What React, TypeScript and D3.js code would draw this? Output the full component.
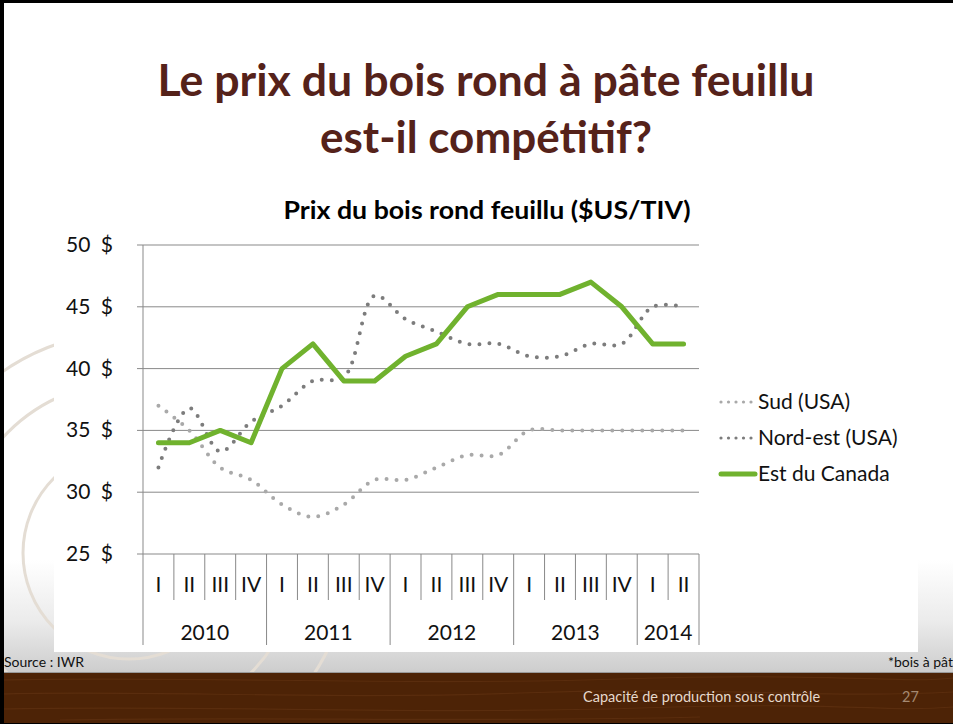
import React, { useRef, useEffect } from "react";
import * as d3 from "d3";

// slide / chart text
const titleLines = ["Le prix du bois rond à pâte feuillu", "est-il compétitif?"];
const titleWidths = [657, 332];
const chartTitle = "Prix du bois rond feuillu ($US/TIV)";

// x categories (two levels)
const quarterLabels = ["I", "II", "III", "IV", "I", "II", "III", "IV", "I", "II", "III", "IV", "I", "II", "III", "IV", "I", "II"];
const yearLabels = ["2010", "2011", "2012", "2013", "2014"];
const yearSpans = [4, 4, 4, 4, 2];

// y ticks
const yTicks = [25, 30, 35, 40, 45, 50];

// series values ($US/TIV)
const sud = [37, 35, 32, 31, 29, 28, 29, 31, 31, 32, 33, 33, 35, 35, 35, 35, 35, 35];
const nordEst = [32, 36.8, 33.3, 35.7, 37, 39, 39.3, 45.9, 44, 43, 42, 42, 41, 41, 42, 42, 45, 45];
const estCanada = [34, 34, 35, 34, 40, 42, 39, 39, 41, 42, 45, 46, 46, 46, 47, 45, 42, 42];

const seriesNames = ["Sud (USA)", "Nord-est (USA)", "Est du Canada"];

const W = 953;
const H = 724;
const FONT = "Lato, 'Open Sans', sans-serif";

const App = () => {
	const svgRef = useRef(null);

	useEffect(() => {
		const svg = d3.select(svgRef.current);
		svg.selectAll("*").remove();

		const defs = svg.append("defs");
		const grad = defs.append("linearGradient")
			.attr("id", "bandGrad")
			.attr("x1", 0).attr("y1", 0).attr("x2", 0).attr("y2", 1);
		grad.append("stop").attr("offset", "0%").attr("stop-color", "#ffffff");
		grad.append("stop").attr("offset", "55%").attr("stop-color", "#ebebeb");
		grad.append("stop").attr("offset", "100%").attr("stop-color", "#cdcdcd");

		// slide background
		svg.append("rect").attr("width", W).attr("height", H).attr("fill", "#ffffff");
		svg.append("rect")
			.attr("x", 0).attr("y", 560).attr("width", W).attr("height", 112)
			.attr("fill", "url(#bandGrad)");

		// faint decorative rings
		const rings = svg.append("g").attr("fill", "none").attr("stroke", "#e4ddd4").attr("stroke-width", 3);
		[106, 171, 221].forEach(r => {
			rings.append("circle").attr("cx", 129).attr("cy", 553).attr("r", r);
		});

		// wood footer
		svg.append("rect").attr("x", 0).attr("y", 672).attr("width", W).attr("height", 52).attr("fill", "#4d2306");
		const grain = svg.append("g").attr("fill", "none").attr("stroke", "#5e3010").attr("stroke-width", 1.2).attr("opacity", 0.8);
		["M0,680 C200,676 400,686 620,679 S900,684 953,678",
			"M0,694 C150,690 330,700 520,693 S820,699 953,692",
			"M0,709 C220,705 420,715 640,708 S880,713 953,707",
			"M60,720 C260,716 480,723 700,717"].forEach(p => grain.append("path").attr("d", p));
		svg.append("line").attr("x1", 0).attr("x2", W).attr("y1", 672.5).attr("y2", 672.5)
			.attr("stroke", "#9a9a9a").attr("stroke-width", 1);

		svg.append("text")
			.attr("x", 583).attr("y", 702)
			.attr("font-family", FONT).attr("font-size", 14.5)
			.attr("fill", "#e6d9cc")
			.text("Capacité de production sous contrôle");
		svg.append("text")
			.attr("x", 902).attr("y", 702)
			.attr("font-family", FONT).attr("font-size", 14.5)
			.attr("fill", "#a58a72")
			.text("27");

		svg.append("text")
			.attr("x", 4).attr("y", 667)
			.attr("font-family", FONT).attr("font-size", 14)
			.attr("fill", "#111")
			.text("Source : IWR");
		svg.append("text")
			.attr("x", 888).attr("y", 667)
			.attr("font-family", FONT).attr("font-size", 14)
			.attr("fill", "#111")
			.text("*bois à pâte");

		// slide border
		svg.append("line").attr("x1", 0).attr("x2", W).attr("y1", 1.5).attr("y2", 1.5).attr("stroke", "#000").attr("stroke-width", 3);
		svg.append("line").attr("x1", 2).attr("x2", 2).attr("y1", 0).attr("y2", H).attr("stroke", "#000").attr("stroke-width", 4);
		svg.append("line").attr("x1", 0).attr("x2", W).attr("y1", H - 0.5).attr("y2", H - 0.5).attr("stroke", "#000").attr("stroke-width", 1);

		// slide title
		svg.append("g")
			.selectAll("text")
			.data(titleLines)
			.enter()
			.append("text")
			.attr("x", 486)
			.attr("y", (d, i) => 96 + i * 57)
			.attr("text-anchor", "middle")
			.attr("font-family", FONT)
			.attr("font-weight", "bold")
			.attr("font-size", 44)
			.attr("textLength", (d, i) => titleWidths[i])
			.attr("lengthAdjust", "spacingAndGlyphs")
			.attr("fill", "#55221a")
			.text(d => d);

		// chart area
		svg.append("rect")
			.attr("x", 54).attr("y", 175).attr("width", 864).attr("height", 477)
			.attr("fill", "#ffffff");

		svg.append("text")
			.attr("x", 487).attr("y", 219)
			.attr("text-anchor", "middle")
			.attr("font-family", FONT)
			.attr("font-weight", "bold")
			.attr("font-size", 24)
			.attr("textLength", 407)
			.attr("lengthAdjust", "spacingAndGlyphs")
			.attr("fill", "#000")
			.text(chartTitle);

		const xScale = d3.scaleBand()
			.domain(d3.range(quarterLabels.length))
			.range([143, 699]);
		const yScale = d3.scaleLinear()
			.domain([25, 50])
			.range([554, 245]);
		const cx = i => xScale(i) + xScale.bandwidth() / 2;

		// gridlines + y labels
		const grid = svg.append("g");
		grid.selectAll("line")
			.data(yTicks)
			.enter()
			.append("line")
			.attr("x1", 137).attr("x2", 699)
			.attr("y1", d => yScale(d)).attr("y2", d => yScale(d))
			.attr("stroke", "#898989").attr("stroke-width", 1);
		grid.selectAll("text")
			.data(yTicks)
			.enter()
			.append("text")
			.attr("x", 113)
			.attr("y", d => yScale(d) + 7)
			.attr("text-anchor", "end")
			.attr("font-family", FONT)
			.attr("font-size", 21)
			.attr("fill", "#111")
			.text(d => `${d}\u2002$`);
		svg.append("line")
			.attr("x1", 143).attr("x2", 143).attr("y1", 245).attr("y2", 554)
			.attr("stroke", "#898989");

		// multi-level category axis
		const xAxis = svg.append("g");
		const yearStarts = yearSpans.map((s, i) => d3.sum(yearSpans.slice(0, i)));
		const boundaries = d3.range(quarterLabels.length + 1);
		xAxis.selectAll("line")
			.data(boundaries)
			.enter()
			.append("line")
			.attr("x1", d => xScale.step() * d + 143)
			.attr("x2", d => xScale.step() * d + 143)
			.attr("y1", 554)
			.attr("y2", d => (yearStarts.includes(d) || d === quarterLabels.length) ? 645 : 600)
			.attr("stroke", "#898989").attr("stroke-width", 1);
		xAxis.selectAll("text.q")
			.data(quarterLabels)
			.enter()
			.append("text")
			.attr("class", "q")
			.attr("x", (d, i) => cx(i))
			.attr("y", 592)
			.attr("text-anchor", "middle")
			.attr("font-family", FONT)
			.attr("font-size", 21)
			.attr("fill", "#111")
			.text(d => d);
		xAxis.selectAll("text.y")
			.data(yearLabels)
			.enter()
			.append("text")
			.attr("class", "y")
			.attr("x", (d, i) => 143 + xScale.step() * (yearStarts[i] + yearSpans[i] / 2))
			.attr("y", 640)
			.attr("text-anchor", "middle")
			.attr("font-family", FONT)
			.attr("font-size", 21)
			.attr("fill", "#111")
			.text(d => d);

		// series
		const smooth = d3.line()
			.x((d, i) => cx(i))
			.y(d => yScale(d))
			.curve(d3.curveCatmullRom.alpha(0.5));
		const straight = d3.line()
			.x((d, i) => cx(i))
			.y(d => yScale(d));

		svg.append("path")
			.attr("d", smooth(sud))
			.attr("fill", "none")
			.attr("stroke", "#a9a9a9")
			.attr("stroke-width", 4)
			.attr("stroke-linecap", "round")
			.attr("stroke-dasharray", "0 10");
		svg.append("path")
			.attr("d", smooth(nordEst))
			.attr("fill", "none")
			.attr("stroke", "#7c7c7c")
			.attr("stroke-width", 4)
			.attr("stroke-linecap", "round")
			.attr("stroke-dasharray", "0 10");
		svg.append("path")
			.attr("d", straight(estCanada))
			.attr("fill", "none")
			.attr("stroke", "#70b22e")
			.attr("stroke-width", 5)
			.attr("stroke-linecap", "round")
			.attr("stroke-linejoin", "round");

		// legend
		const legendStyles = [
			{ color: "#a9a9a9", width: 3.2, dash: "0 7.5" },
			{ color: "#7c7c7c", width: 3.2, dash: "0 7.5" },
			{ color: "#70b22e", width: 5, dash: null }
		];
		const legendY = [402, 438, 474];
		const legend = svg.append("g");
		seriesNames.forEach((name, i) => {
			const ln = legend.append("line")
				.attr("x1", 721).attr("x2", 755)
				.attr("y1", legendY[i]).attr("y2", legendY[i])
				.attr("stroke", legendStyles[i].color)
				.attr("stroke-width", legendStyles[i].width)
				.attr("stroke-linecap", "round");
			if (legendStyles[i].dash) ln.attr("stroke-dasharray", legendStyles[i].dash);
			legend.append("text")
				.attr("x", 758).attr("y", legendY[i] + 7)
				.attr("font-family", FONT)
				.attr("font-size", 21)
				.attr("fill", "#111")
				.text(name);
		});
	}, []);

	return (
		<svg ref={svgRef} width={W} height={H} style={{ position: "absolute", left: 0, top: 0 }}></svg>
	);
};

export default App;
